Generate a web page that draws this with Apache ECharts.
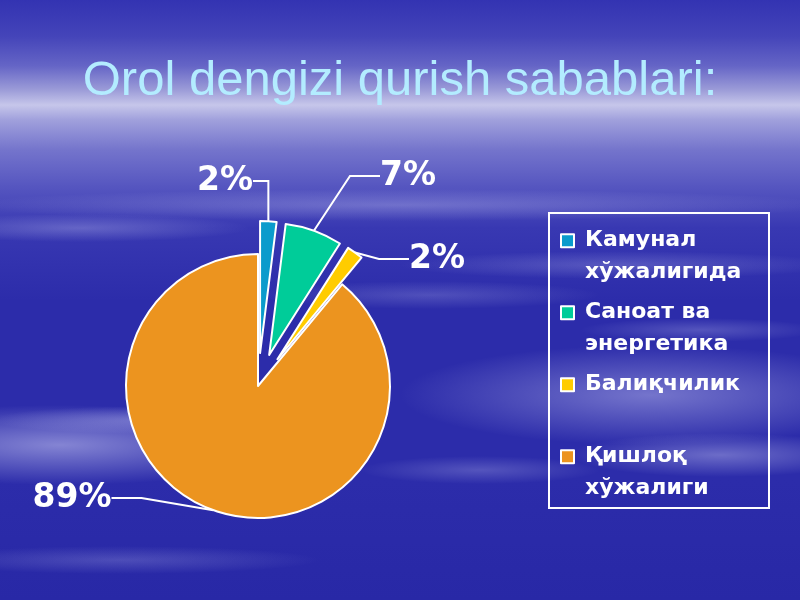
<!DOCTYPE html>
<html>
<head>
<meta charset="utf-8">
<script src="https://cdn.jsdelivr.net/npm/echarts@6/dist/echarts.min.js"></script>
<style>
html,body{margin:0;padding:0;background:#2a2aa8;}
#chart{width:800px;height:600px;}
</style>
</head>
<body>
<div id="chart"></div>
<script>
// ---- data ----
var titleText = 'Orol dengizi qurish sabablari:';
var categories = ['Камунал хўжалигида', 'Саноат ва энергетика', 'Балиқчилик', 'Қишлоқ хўжалиги'];
var legendLabels = ['Камунал\nхўжалигида', 'Саноат ва\nэнергетика', 'Балиқчилик\n ', 'Қишлоқ\nхўжалиги'];
var values = [2, 7, 2, 89];
var exploded = [true, true, true, false];

// ---- style ----
var colors = ['#0a9bcc', '#00cc99', '#ffcc00', '#ec941f'];
var labelPos = [[225, 181], [408, 176], [437, 259], [72, 498]];
var pieCenter = [258, 386];
var pieRadius = 132;
var explodeDist = 33;

var chart = echarts.init(document.getElementById('chart'), null, {renderer: 'canvas'});

function cloud(cx, cy, rx, ry, a) {
  return {
    type: 'circle', silent: true, z: -10,
    x: cx, y: cy, scaleX: rx / ry, scaleY: 1,
    shape: {cx: 0, cy: 0, r: ry},
    style: {
      fill: {type: 'radial', x: 0.5, y: 0.5, r: 0.5, colorStops: [
        {offset: 0, color: 'rgba(205,205,245,' + a + ')'},
        {offset: 0.5, color: 'rgba(205,205,245,' + (a * 0.5) + ')'},
        {offset: 1, color: 'rgba(205,205,245,0)'}
      ]}
    }
  };
}

var total = values.reduce(function (s, v) { return s + v; }, 0);
var cum = 0;
var series = categories.map(function (cat, i) {
  var mid = (cum + values[i] / 2) / total * 2 * Math.PI; // clockwise from 12 o'clock
  cum += values[i];
  var d = exploded[i] ? explodeDist : 0;
  var c = [pieCenter[0] + Math.sin(mid) * d, pieCenter[1] - Math.cos(mid) * d];
  return {
    type: 'pie',
    radius: pieRadius,
    center: c,
    startAngle: 90,
    clockwise: true,
    avoidLabelOverlap: false,
    silent: true,
    emphasis: {disabled: true},
    labelLine: {show: true, lineStyle: {color: '#ffffff', width: 2}},
    labelLayout: function (p) {
      if (p.dataIndex !== i) return {};
      var pos = labelPos[p.dataIndex];
      return {x: pos[0], y: pos[1], align: 'center', verticalAlign: 'middle'};
    },
    data: categories.map(function (c2, j) {
      var own = j === i;
      return {
        name: c2,
        value: values[j],
        itemStyle: own ? {color: colors[j], borderColor: '#ffffff', borderWidth: 2}
                       : {color: 'rgba(0,0,0,0)', borderWidth: 0},
        label: own ? {
          show: true, formatter: '{d}%', color: '#ffffff',
          fontSize: 33, fontWeight: 'bold', fontFamily: 'DejaVu Sans'
        } : {show: false},
        labelLine: {show: own}
      };
    })
  };
});

chart.setOption({
  animation: false,
  backgroundColor: {
    type: 'linear', x: 0, y: 0, x2: 0, y2: 1,
    colorStops: [
      {offset: 0.00, color: '#3333b2'},
      {offset: 0.06, color: '#4444b9'},
      {offset: 0.11, color: '#6565c6'},
      {offset: 0.15, color: '#9c9cd8'},
      {offset: 0.175, color: '#c6c6ea'},
      {offset: 0.20, color: '#a0a0dc'},
      {offset: 0.25, color: '#7474cc'},
      {offset: 0.31, color: '#5656c0'},
      {offset: 0.38, color: '#3838b2'},
      {offset: 0.50, color: '#2c2caa'},
      {offset: 0.80, color: '#2c2caa'},
      {offset: 1.00, color: '#2828a6'}
    ]
  },
  graphic: [
    cloud(60, 445, 240, 40, 0.55),
    cloud(150, 420, 160, 14, 0.35),
    cloud(650, 395, 250, 50, 0.45),
    cloud(720, 455, 150, 22, 0.4),
    cloud(480, 470, 120, 14, 0.25),
    cloud(430, 295, 170, 14, 0.22),
    cloud(620, 265, 220, 14, 0.25),
    cloud(120, 560, 200, 14, 0.22),
    cloud(80, 228, 170, 14, 0.3),
    cloud(400, 205, 440, 16, 0.3),
    cloud(700, 330, 120, 12, 0.25),
    {
      type: 'rect', silent: true, z: 10,
      shape: {x: 549, y: 213, width: 220, height: 295},
      style: {fill: 'none', stroke: '#ffffff', lineWidth: 2}
    }
  ],
  title: {
    text: titleText,
    left: 'center',
    top: 52,
    textStyle: {color: '#b3ecff', fontSize: 49, fontWeight: 'normal', fontFamily: 'Liberation Sans'}
  },
  legend: {
    orient: 'vertical',
    left: 560,
    top: 224,
    padding: 0,
    itemGap: 8,
    itemWidth: 13,
    itemHeight: 44,
    icon: 'path://M0,0L12,0L12,12L0,12Z M0,40',
    symbolKeepAspect: true,
    selectedMode: false,
    data: categories.map(function (c, i) {
      return {name: c, itemStyle: {color: colors[i], borderColor: '#ffffff', borderWidth: 2}};
    }),
    formatter: function (name) { return legendLabels[categories.indexOf(name)]; },
    textStyle: {
      color: '#ffffff', fontSize: 22, fontWeight: 'bold', fontFamily: 'DejaVu Sans',
      lineHeight: 32, padding: [0, 0, 0, 6]
    }
  },
  series: series
});
</script>
</body>
</html>
